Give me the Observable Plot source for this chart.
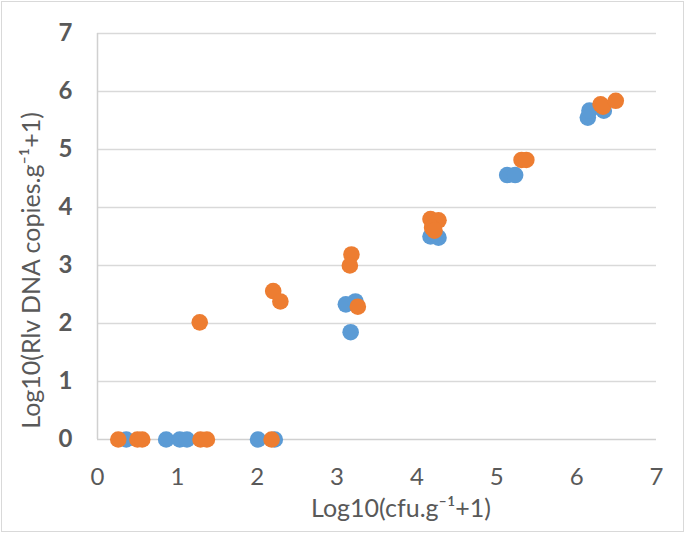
<!DOCTYPE html>
<html>
<head>
<meta charset="utf-8">
<script src="https://cdn.jsdelivr.net/npm/d3@7"></script>
<script src="https://cdn.jsdelivr.net/npm/@observablehq/plot@0.6"></script>
<style>
  html, body { margin: 0; padding: 0; background: #fff; }
  #wrap { position: relative; width: 685px; height: 533px; }
  #border { position: absolute; left: 1px; top: 1px; right: 1px; bottom: 1px; border: 1px solid #d9d9d9; pointer-events: none; }
</style>
</head>
<body>
<div id="wrap"><div id="border"></div></div>
<script>
const xTicks = [0, 1, 2, 3, 4, 5, 6, 7];
const yTicks = [0, 1, 2, 3, 4, 5, 6, 7];
const xTitle = "Log10(cfu.g⁻¹+1)";
const yTitle = "Log10(Rlv DNA copies.g⁻¹+1)";

// Series 1 (blue)
const blueX = [0.36, 0.86, 1.03, 1.12, 2.01, 2.22, 3.11, 3.23, 3.17, 4.17, 4.27, 4.22, 5.13, 5.23, 6.14, 6.16, 6.34];
const blueY = [0, 0, 0, 0, 0, 0, 2.33, 2.38, 1.85, 3.50, 3.48, 3.55, 4.56, 4.56, 5.55, 5.67, 5.67];
// Series 2 (orange)
const orangeX = [0.26, 0.50, 0.56, 1.29, 1.37, 2.18, 1.28, 2.20, 2.29, 3.18, 3.16, 3.26, 4.17, 4.27, 4.19, 4.22, 5.31, 5.37, 6.30, 6.33, 6.49];
const orangeY = [0, 0, 0, 0, 0, 0, 2.02, 2.56, 2.38, 3.19, 3.00, 2.29, 3.80, 3.78, 3.65, 3.60, 4.82, 4.82, 5.78, 5.74, 5.84];

const blue = blueX.map((x, i) => ({x, y: blueY[i]}));
const orange = orangeX.map((x, i) => ({x, y: orangeY[i]}));

const font = "Lato, 'Open Sans', sans-serif";

const chart = Plot.plot({
  width: 685,
  height: 533,
  marginLeft: 97,
  marginRight: 29,
  marginTop: 33,
  marginBottom: 94,
  style: { fontFamily: font, background: "transparent", overflow: "visible" },
  x: { domain: [0, 7] },
  y: { domain: [0, 7] },
  marks: [
    Plot.gridY(yTicks.filter(d => d > 0), { stroke: "#d9d9d9", strokeOpacity: 1, strokeWidth: 1.5 }),
    Plot.ruleX([0], { stroke: "#d0d0d0", strokeWidth: 1.5 }),
    Plot.ruleY([0], { stroke: "#d0d0d0", strokeWidth: 1.5 }),
    Plot.axisY(yTicks, { tickSize: 0, tickPadding: 25, fontSize: 24, fontWeight: "bold", fill: "#595959", label: null, tickFormat: d3.format("d") }),
    Plot.axisX(xTicks, { tickSize: 0, tickPadding: 28, fontSize: 24, fill: "#595959", label: null, tickFormat: d3.format("d") }),
    Plot.dot(blue, { x: "x", y: "y", r: 8.3, fill: "#5b9bd5", stroke: null }),
    Plot.dot(orange, { x: "x", y: "y", r: 8.3, fill: "#ed7d31", stroke: null }),
    Plot.text([xTitle], { frameAnchor: "bottom", text: d => d, dx: 24, dy: 77, fontSize: 25, fill: "#595959" }),
    Plot.text([yTitle], { frameAnchor: "left", textAnchor: "middle", text: d => d, rotate: -90, dx: -66, dy: 34, fontSize: 25, fill: "#595959" })
  ]
});
document.getElementById("wrap").prepend(chart);
</script>
</body>
</html>
